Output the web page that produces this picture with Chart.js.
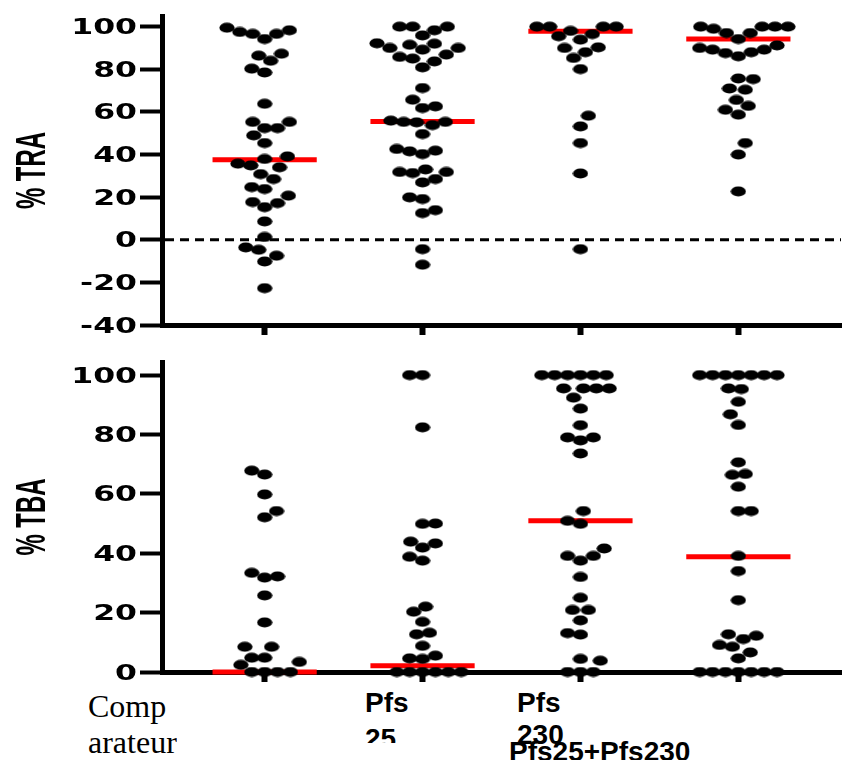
<!DOCTYPE html>
<html>
<head>
<meta charset="utf-8">
<script src="https://cdn.jsdelivr.net/npm/chart.js@4"></script>
<style>
  html, body { margin: 0; padding: 0; background: #fff; width: 847px; height: 760px; overflow: hidden; }
  .panel { position: absolute; left: 0; width: 847px; }
  .lbl { position: absolute; color: #000; white-space: nowrap; overflow: hidden; }
</style>
</head>
<body>
<div class="panel" style="top:0;height:340px"><canvas id="tra"></canvas></div>
<div class="panel" style="top:340px;height:345px"><canvas id="tba"></canvas></div>
<div id="labels"></div>
<script>
// categories and x labels (as printed, broken over lines)
const groups = ['Comparateur', 'Pfs25', 'Pfs230', 'Pfs25+Pfs230'];
const categoryLines = [['Comp', 'arateur'], ['Pfs', '25'], ['Pfs', '230'], ['Pfs25+Pfs230']];

const traTicks = [-40, -20, 0, 20, 40, 60, 80, 100];
const tbaTicks = [0, 20, 40, 60, 80, 100];

// % TRA per mouse
const traComparateur = [99.5, 97.5, 96.6, 94.2, 96.6, 98.3, 86.4, 87.3, 84, 80.3, 78.5, 63.8, 55.3, 55.3, 52.4, 52.4, 49, 45.4, 39.1, 37.9, 34.9, 34, 35.7, 30.8, 28.5, 24.7, 23.8, 20.7, 17.7, 15.3, 17.2, 8.6, 1.3, -3.6, -7.5, -10.2, -4.7, -22.7];
const traPfs25 = [100, 98.3, 95.9, 91.5, 90, 89.2, 90, 92.2, 92, 100, 100, 85.8, 83.7, 85, 86.9, 80.9, 71.2, 65.7, 62.6, 61.8, 55.3, 55.3, 53.8, 55.1, 55.9, 49.6, 42.6, 41.5, 40.2, 41.8, 31.8, 31.3, 31.8, 33, 26.9, 28.5, 19.1, 19.9, 13.9, 12.5, -4.4, -11.7];
const traPfs230 = [100, 100, 100, 100, 98, 96.5, 95.5, 93.9, 90, 90.3, 88, 85.3, 80.1, 58.2, 53.2, 45.4, 31.1, -4.4];
const traPfs25Pfs230 = [100, 100, 100, 100, 99, 97, 94.2, 97, 90, 89.2, 87.6, 86.1, 88, 89.2, 91.2, 75.4, 75.7, 70.4, 71, 65.6, 62.8, 61, 58.7, 45.4, 40, 22.7];
const traMedians = [37.6, 55.5, 97.8, 94.2];

// % TBA per mouse
const tbaComparateur = [67.8, 66.5, 59.8, 54.2, 52.1, 33.4, 31.8, 32.2, 25.8, 16.7, 8.5, 8.5, 4.8, 4.8, 3.4, 2.4, 0, 0, 0, 0];
const tbaPfs25 = [100, 100, 82.4, 50, 49.9, 43.9, 43.3, 41.9, 37.5, 38.8, 22, 20.3, 16.9, 12.7, 13.2, 8.8, 5.5, 4.6, 4.4, 0, 0, 0, 0, 0, 0];
const tbaPfs230 = [100, 100, 100, 100, 100, 100, 95.5, 95.5, 95.5, 95.5, 92.4, 88.7, 83.1, 79, 78, 79, 73.6, 54.2, 49.9, 50.9, 41.6, 39.1, 37.5, 39.1, 32, 25, 20.9, 20.9, 17.4, 13.1, 12.6, 4.4, 3.8, 0, 0, 0];
const tbaPfs25Pfs230 = [100, 100, 100, 100, 100, 100, 100, 95.5, 95.3, 91, 86.8, 83.2, 70.6, 66.4, 66.7, 62.4, 54.2, 54.2, 39.1, 34, 24.2, 11.1, 12.2, 12.7, 8.5, 9.1, 6.6, 4.6, 0, 0, 0, 0, 0, 0, 0];
const tbaMedians = [0, 2.1, 50.9, 38.8];

// oval marker
const dot = document.createElement('canvas');
dot.width = 16; dot.height = 11;
(() => {
  const c = dot.getContext('2d');
  c.fillStyle = '#000';
  c.beginPath();
  c.ellipse(8, 5.5, 7.6, 5.1, 0, 0, Math.PI * 2);
  c.fill();
})();

// dashed line at y = 0
const zeroLine = {
  id: 'zeroLine',
  beforeDatasetsDraw(chart, args, opts) {
    if (!opts.show) return;
    const { ctx, chartArea, scales } = chart;
    const y = scales.y.getPixelForValue(0);
    ctx.save();
    ctx.setLineDash([9, 6]);
    ctx.lineWidth = 3;
    ctx.strokeStyle = '#000';
    ctx.beginPath();
    ctx.moveTo(chartArea.left + 3, y);
    ctx.lineTo(chartArea.right, y);
    ctx.stroke();
    ctx.restore();
  }
};

// wide bold tick numbers and narrow rotated axis title
const axisText = {
  id: 'axisText',
  afterDraw(chart, args, opts) {
    const { ctx, chartArea, scales } = chart;
    const ys = scales.y;
    ctx.save();
    ctx.fillStyle = '#000';
    ctx.font = 'bold 21px "DejaVu Sans"';
    ctx.textAlign = 'right';
    ctx.textBaseline = 'alphabetic';
    ys.ticks.forEach(t => {
      ctx.save();
      ctx.translate(chartArea.left - 25, ys.getPixelForValue(t.value) + 7.5);
      ctx.scale(1.5, 1);
      ctx.fillText(String(t.value), 0, 0);
      ctx.restore();
    });
    ctx.font = 'bold 42px "Liberation Sans"';
    ctx.textAlign = 'center';
    ctx.translate(45, (chartArea.top + chartArea.bottom) / 2);
    ctx.rotate(-Math.PI / 2);
    ctx.scale(0.57, 1);
    ctx.fillText(opts.title, 0, 0);
    ctx.restore();
  }
};

// spread overlapping values sideways (column scatter)
function swarmPoints(values, center, chart) {
  const xs = chart.scales.x, ys = chart.scales.y;
  const cx = xs.getPixelForValue(center);
  const placed = [];
  let side = 1;
  return values.slice().sort((a, b) => a - b).map(v => {
    const py = ys.getPixelForValue(v);
    const free = px => placed.every(p => ((p.x - px) / 13) ** 2 + ((p.y - py) / 13) ** 2 >= 1);
    let px = cx;
    for (let d = 0; d < 300; d++) {
      if (d === 0) {
        if (free(cx)) { px = cx; break; }
        continue;
      }
      if (free(cx + side * d)) { px = cx + side * d; break; }
      if (free(cx - side * d)) { px = cx - side * d; break; }
    }
    if (px !== cx) side = px > cx ? -1 : 1;
    placed.push({ x: px, y: py });
    return { x: xs.getValueForPixel(px), y: v };
  });
}

function makePanel(id, sets, medians, ticks, yMin, yMax, padTop, xHeight, title, showZero) {
  const scatter = sets.map(() => ({
    type: 'scatter',
    data: [],
    pointStyle: dot,
    pointRadius: 6,
    backgroundColor: '#000',
    borderWidth: 0,
    clip: false,
    order: 1
  }));
  const medianLines = medians.map((m, i) => ({
    type: 'line',
    data: [{ x: i + 1 - 0.33, y: m }, { x: i + 1 + 0.33, y: m }],
    borderColor: '#ff0000',
    borderWidth: 5,
    pointRadius: 0,
    clip: false,
    order: 2
  }));

  const chart = new Chart(document.getElementById(id), {
    type: 'scatter',
    data: { datasets: scatter.concat(medianLines) },
    options: {
      animation: false,
      responsive: true,
      maintainAspectRatio: false,
      layout: { padding: { top: padTop, left: 0, right: 0, bottom: 0 } },
      plugins: {
        legend: { display: false },
        tooltip: { enabled: false },
        zeroLine: { show: showZero },
        axisText: { title: title }
      },
      scales: {
        x: {
          type: 'linear',
          min: 0.35,
          max: 4.65,
          afterBuildTicks: s => { s.ticks = groups.map((g, i) => ({ value: i + 1 })); },
          afterFit: s => { s.height = xHeight; },
          ticks: { display: false },
          grid: { drawOnChartArea: false, tickLength: 10, tickWidth: 6, tickColor: '#000' },
          border: { width: 5, color: '#000' }
        },
        y: {
          min: yMin,
          max: yMax,
          afterBuildTicks: s => { s.ticks = ticks.map(v => ({ value: v })); },
          afterFit: s => { s.width = 162; },
          ticks: { display: false },
          grid: { drawOnChartArea: false, tickLength: 22, tickWidth: 4, tickColor: '#000' },
          border: { width: 5, color: '#000' }
        }
      }
    },
    plugins: [zeroLine, axisText]
  });

  sets.forEach((vals, i) => {
    chart.data.datasets[i].data = swarmPoints(vals, i + 1, chart);
  });
  chart.update('none');
  return chart;
}

makePanel('tra', [traComparateur, traPfs25, traPfs230, traPfs25Pfs230], traMedians, traTicks, -40, 105, 16, 15, '% TRA', true);
makePanel('tba', [tbaComparateur, tbaPfs25, tbaPfs230, tbaPfs25Pfs230], tbaMedians, tbaTicks, 0, 104.4, 22, 13, '% TBA', false);

// category labels, placed the way they were printed under the lower panel
const labelStyles = [
  { left: 88, top: 688, font: '32px "Liberation Serif"', lh: 36 },
  { left: 365, top: 685, font: 'bold 28px "Liberation Sans"', lh: 36, h: 58 },
  { left: 517, top: 687, font: 'bold 28px "Liberation Sans"', lh: 32 },
  { left: 509, top: 736, font: 'bold 28px "Liberation Sans"', lh: 32 }
];
const holder = document.getElementById('labels');
categoryLines.forEach((lines, i) => {
  const s = labelStyles[i];
  const el = document.createElement('div');
  el.className = 'lbl';
  el.style.left = s.left + 'px';
  el.style.top = s.top + 'px';
  el.style.font = s.font;
  el.style.lineHeight = s.lh + 'px';
  if (s.h) el.style.height = s.h + 'px';
  el.innerHTML = lines.join('<br>');
  holder.appendChild(el);
});
</script>
</body>
</html>
